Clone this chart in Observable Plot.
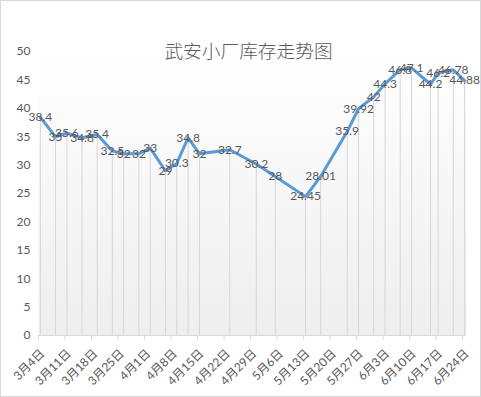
<!DOCTYPE html>
<html><head><meta charset="utf-8">
<script src="https://cdn.jsdelivr.net/npm/d3@7"></script>
<script src="https://cdn.jsdelivr.net/npm/@observablehq/plot@0.6"></script>
<style>
body{margin:0;background:#fff;}
#chart svg{display:block; outline:1px solid #d9d9d9; outline-offset:-1px;}
</style></head><body><div id="chart"></div>
<script>
const title = "武安小厂库存走势图";
const dates = ["03-04","03-08","03-11","03-15","03-19","03-23","03-26","03-30","04-02","04-06","04-09","04-12","04-15","04-23","04-30","05-05","05-13","05-17","05-24","05-27","05-31","06-03","06-07","06-10","06-15","06-17","06-21","06-24"];
const values = [38.4,35,35.6,34.8,35.4,32.5,32,32,33,29,30.3,34.8,32,32.7,30.2,28,24.45,28.01,35.9,39.92,42,44.3,46.8,47.1,44.2,46.2,46.78,44.88];
const tickDates = ["03-04","03-11","03-18","03-25","04-01","04-08","04-15","04-22","04-29","05-06","05-13","05-20","05-27","06-03","06-10","06-17","06-24"];
const yTicks = [0,5,10,15,20,25,30,35,40,45,50];

const year = 2019;
const parse = d3.utcParse("%Y-%m-%d");
const data = dates.map((d,i)=>({date: d3.utcHour.offset(parse(year+"-"+d),12), value: values[i], label: String(values[i])}));
const ticks = tickDates.map(d=>parse(year+"-"+d));
const fmt = d=>`${d.getUTCMonth()+1}月${d.getUTCDate()}日`;
const font = "Lato, 'Noto Sans CJK SC', sans-serif";

const plot = Plot.plot({
  width:481, height:397, marginLeft:38, marginRight:15, marginTop:51, marginBottom:62,
  style:{fontFamily: font, fontSize:"12px", color:"#595959", background:"transparent"},
  x:{type:"utc", domain:[parse(year+"-03-04"), parse(year+"-06-25")]},
  y:{domain:[0,50]},
  marks:[
    Plot.frame({fill:"url(#plotbg)", stroke:null}),
    Plot.ruleX(data,{x:"date", y1:0, y2:"value", stroke:"#d6d6d6", strokeWidth:1}),
    Plot.ruleY([0], {stroke:"#d9d9d9"}),
    Plot.line(data,{x:"date",y:"value",stroke:"#5b9bd5",strokeWidth:3,strokeLinejoin:"round",strokeLinecap:"round"}),
    Plot.text(data,{x:"date",y:"value",text:"label",fill:"#595959",fontSize:12}),
    Plot.axisY({ticks:yTicks, tickSize:0, tickPadding:8, label:null, fill:"#595959"}),
    Plot.axisX({ticks: ticks, tickSize:5, tickFormat: ()=>"", label:null, stroke:"#d9d9d9"}),
    Plot.text(ticks,{x:d=>d, text:fmt, frameAnchor:"bottom", rotate:-45, textAnchor:"end", lineAnchor:"middle", dx:4, dy:16, fill:"#595959", fontSize:12}),
    Plot.text([title],{frameAnchor:"top", dy:-7, dx:-4, fontSize:18.7, fill:"#595959", fontWeight:300, fontFamily:"'Noto Sans CJK SC', sans-serif"})
  ]
});
const defs = d3.select(plot).insert("defs", ":first-child");
const g = defs.append("linearGradient").attr("id","plotbg").attr("x1",0).attr("y1",0).attr("x2",0).attr("y2",1);
g.append("stop").attr("offset","0%").attr("stop-color","#ffffff");
g.append("stop").attr("offset","100%").attr("stop-color","#eeeeee");
document.getElementById("chart").appendChild(plot);
</script></body></html>
